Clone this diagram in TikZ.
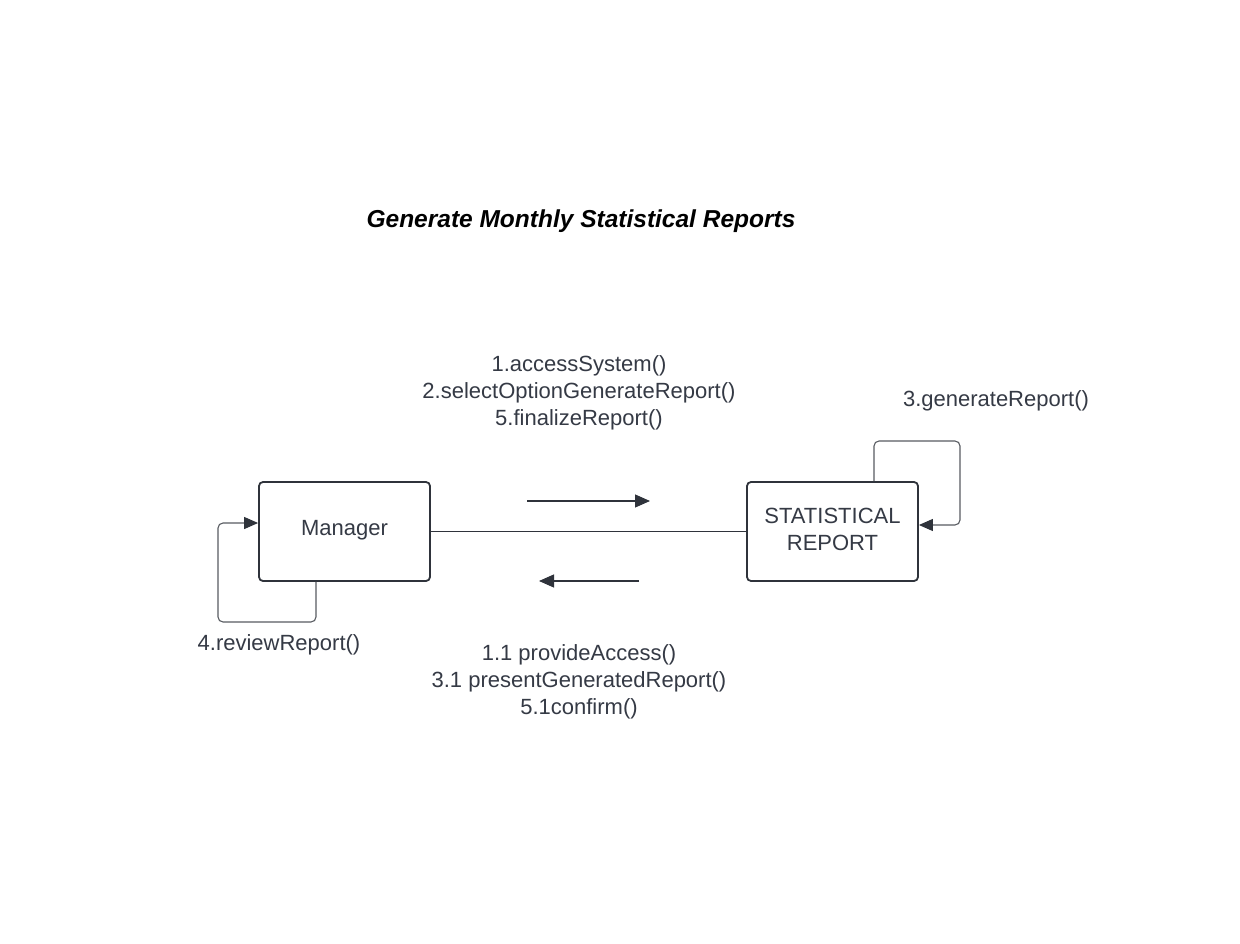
\documentclass[tikz,border=0pt]{standalone}
\usepackage{fontspec}
\setmainfont{Liberation Sans}
\usetikzlibrary{arrows.meta}
\definecolor{ink}{HTML}{353A45}
\definecolor{edge}{HTML}{2F333B}
\tikzset{
	obj/.style={draw=edge,line width=1.8pt,rounded corners=4pt,minimum width=171pt,minimum height=99pt,inner sep=0pt,align=center,text=ink,font=\fontsize{22}{27}\selectfont},
	msg/.style={inner sep=0pt,align=center,text=ink,font=\fontsize{22}{27}\selectfont},
	link/.style={draw=edge,line width=1.1pt},
	dir/.style={draw=edge,line width=1.1pt,-{Triangle[length=15pt,width=13pt]}},
	selfloop/.style={draw=edge!80,line width=1.1pt,rounded corners=5pt,-{Triangle[length=14pt,width=12pt,color=edge]}}
}
\begin{document}
\begin{tikzpicture}[x=1pt,y=-1pt]
	\useasboundingbox[fill=white] (0,0) rectangle (1240,944);
	\node[font=\fontsize{24.5}{28}\bfseries\itshape\selectfont] (title) at (581,221) {Generate Monthly Statistical Reports};
	\node[obj,text depth=8pt] (mgr) at (344.5,531.5) {Manager};
	\node[obj,text depth=5pt] (rep) at (832.5,531.5) {STATISTICAL\\REPORT};
	\draw[link] (mgr) -- (rep);
	% message arrows
	\coordinate (f1) at (527,501);
	\coordinate (f2) at (650,501);
	\coordinate (b1) at (639,581);
	\coordinate (b2) at (539,581);
	\draw[dir] (f1) -- (f2);
	\draw[dir] (b1) -- (b2);
	\node[msg] (fwd) at (579,392.5) {1.accessSystem()\\2.selectOptionGenerateReport()\\5.finalizeReport()};
	\node[msg] (back) at (579,681.5) {1.1 provideAccess()\\3.1 presentGeneratedReport()\\5.1confirm()};
	% self messages
	\coordinate (m1) at (316,622);
	\coordinate (m2) at (218,523);
	\draw[selfloop] (mgr.south -| m1) -- (m1) -| (m2) -- (mgr.west |- m2);
	\coordinate (r1) at (874,441);
	\coordinate (r2) at (960,525);
	\draw[selfloop] (rep.north -| r1) -- (r1) -| (r2) -- (rep.east |- r2);
	\node[msg] (gen) at (996,401) {3.generateReport()};
	\node[msg] (rev) at (279,645) {4.reviewReport()};
\end{tikzpicture}
\end{document}
